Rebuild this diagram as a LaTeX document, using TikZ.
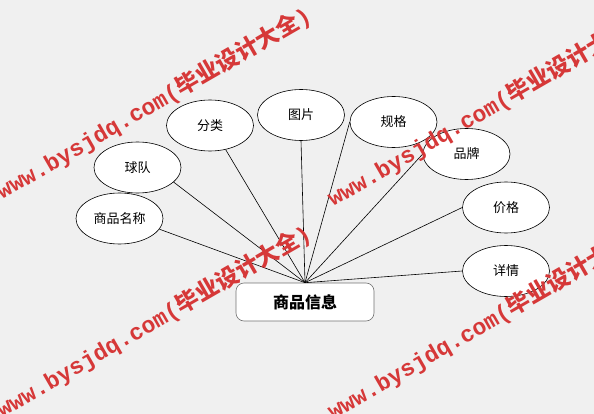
\documentclass[tikz,border=0pt]{standalone}
\usepackage{fontspec}
\usepackage{tikz}
\usetikzlibrary{shapes.geometric,positioning}
\newfontfamily\cjk{Noto Sans CJK SC}
\setmonofont{Liberation Mono}

\begin{document}
\begin{tikzpicture}[x=1pt,y=-1pt]
  % Colors
  \definecolor{bgcolor}{RGB}{240,240,240}
  \definecolor{markcolor}{RGB}{214,56,56}
  \colorlet{boxborder}{black!55}

  % Styles
  \tikzstyle{attribute}=[draw,ellipse,fill=white,line width=0.6pt,minimum width=87pt,minimum height=51pt,inner sep=0pt,font=\cjk\fontsize{13}{13}\selectfont]
  \tikzstyle{entity}=[draw=boxborder,rounded corners=8pt,fill=white,line width=0.6pt,minimum width=138pt,minimum height=38pt,inner sep=0pt,font=\cjk\bfseries\fontsize{16}{16}\selectfont]
  \tikzstyle{link}=[line width=0.6pt]
  \tikzstyle{watermark}=[anchor=base west,rotate=30,inner sep=0pt,text=markcolor,font=\ttfamily\bfseries\fontsize{23}{23}\selectfont]

  % Background
  \fill[bgcolor] (0,0) rectangle (594,414);
  \useasboundingbox (0,0) rectangle (594,414);

  % The graphic
  \node[entity] (info) at (305,302) {商品信息};

  \node[attribute] (name)     at (119.5,218.5) {商品名称};
  \node[attribute] (team)     at (137.5,167.5) {球队};
  \node[attribute] (category) at (210,125.5)   {分类};
  \node[attribute] (picture)  at (301,115)     {图片};
  \node[attribute] (spec)     at (393.5,122)   {规格};
  \node[attribute] (brand)    at (466.5,154)   {品牌};
  \node[attribute] (price)    at (506,207.5)   {价格};
  \node[attribute] (detail)   at (506,271)     {详情};

  \foreach \n/\a in {name/-15,team/-22,category/-57,picture/south,spec/west,brand/west,price/west,detail/west}
    \draw[link] (info.north) -- (\n.\a);

  % Watermarks
  \foreach \i/\p in {1/{(2,200)},2/{(333,207)},3/{(2,418)},4/{(333,420)}}
    \node[watermark] (mark\i) at \p {www.bysjdq.com({\cjk\bfseries 毕业设计大全})};

\end{tikzpicture}
\end{document}
